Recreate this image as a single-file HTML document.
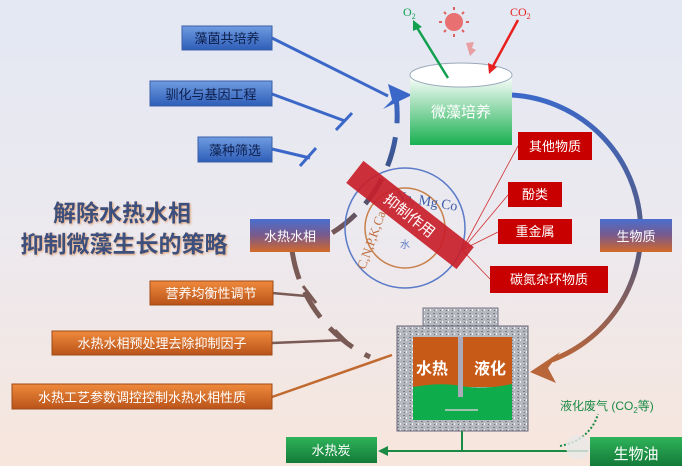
<!DOCTYPE html>
<html><head><meta charset="utf-8"><style>
html,body{margin:0;padding:0;}
body{width:682px;height:466px;overflow:hidden;font-family:"Liberation Sans","Noto Sans CJK SC",sans-serif;}
</style></head><body>
<svg width="682" height="466" viewBox="0 0 682 466" xmlns="http://www.w3.org/2000/svg" font-family="Liberation Sans, Noto Sans CJK SC, sans-serif">
<defs>
<linearGradient id="bg" x1="0" y1="0" x2="0" y2="1"><stop offset="0" stop-color="#e3e8f3"/><stop offset="0.5" stop-color="#ece9ef"/><stop offset="1" stop-color="#f7e6dc"/></linearGradient>
<linearGradient id="blueb" x1="0" y1="0" x2="0" y2="1"><stop offset="0" stop-color="#6f9ce0"/><stop offset="1" stop-color="#2e5db8"/></linearGradient>
<linearGradient id="orb" x1="0" y1="0" x2="0" y2="1"><stop offset="0" stop-color="#ef8a3c"/><stop offset="1" stop-color="#b9531a"/></linearGradient>
<linearGradient id="mix" x1="0" y1="0" x2="0" y2="1"><stop offset="0" stop-color="#4a6fd0"/><stop offset="0.5" stop-color="#7a5a8a"/><stop offset="1" stop-color="#d4692a"/></linearGradient>
<linearGradient id="grb" x1="0" y1="0" x2="0" y2="1"><stop offset="0" stop-color="#2fb35a"/><stop offset="1" stop-color="#137a38"/></linearGradient>
<linearGradient id="cyl" x1="0" y1="0" x2="0" y2="1"><stop offset="0" stop-color="#ffffff"/><stop offset="1" stop-color="#19b050"/></linearGradient>
<linearGradient id="larc" x1="0" y1="0" x2="0" y2="1"><stop offset="0" stop-color="#3b68c8"/><stop offset="0.55" stop-color="#3d4f7c"/><stop offset="1" stop-color="#8a5a4a"/></linearGradient>
<linearGradient id="rarc" x1="0" y1="0" x2="0" y2="1"><stop offset="0" stop-color="#3b68c8"/><stop offset="0.6" stop-color="#5a5a7a"/><stop offset="1" stop-color="#b8653a"/></linearGradient>
<pattern id="gran" width="6" height="6" patternUnits="userSpaceOnUse"><rect width="6" height="6" fill="#b5b8bf"/><rect x="1" y="1" width="2" height="1" fill="#7a7d85"/><rect x="4" y="3" width="1" height="2" fill="#eef0f3"/><rect x="2" y="4" width="1" height="1" fill="#6b6e75"/></pattern>
</defs>
<rect width="682" height="466" fill="url(#bg)"/>

<path d="M292,250 A139,139 0 0 0 396,97" fill="none" stroke="url(#larc)" stroke-width="5" stroke-dasharray="30,14"/>
<path d="M292,250 A139,139 0 0 0 370,357" fill="none" stroke="#7a5a55" stroke-width="5" stroke-dasharray="30,14"/>
<polygon points="412,95 388,84 392,100 383,109" fill="#3b68c8"/>
<path d="M512,95 A137,137 0 0 1 552,360" fill="none" stroke="url(#rarc)" stroke-width="5"/>
<polygon points="530,372 560,352 548,368 556,383" fill="#b8653a"/>

<g stroke="#3b68c8" stroke-width="3"><line x1="272" y1="38" x2="388" y2="96"/><line x1="272" y1="94" x2="345" y2="121"/><line x1="272" y1="149" x2="310" y2="158"/></g>
<g stroke="#3b68c8" stroke-width="3"><line x1="336" y1="130" x2="352" y2="113"/><line x1="300" y1="166" x2="316" y2="148"/></g>
<g font-size="13" fill="#0d1f4d">
<rect x="182" y="26" width="90" height="24" fill="url(#blueb)" stroke="#3a5fa8"/><text x="227" y="43" text-anchor="middle">藻菌共培养</text>
<rect x="150" y="81" width="122" height="25" fill="url(#blueb)" stroke="#3a5fa8"/><text x="211" y="99" text-anchor="middle">驯化与基因工程</text>
<rect x="198" y="137" width="74" height="25" fill="url(#blueb)" stroke="#3a5fa8"/><text x="235" y="155" text-anchor="middle">藻种筛选</text>
</g>

<g font-size="23" font-weight="bold" fill="#3d4f7c">
<text x="122" y="221" text-anchor="middle" style="filter:drop-shadow(1px 1px 1px #e0a070)">解除水热水相</text>
<text x="124" y="252" text-anchor="middle" style="filter:drop-shadow(1px 1px 1px #e0a070)">抑制微藻生长的策略</text>
</g>

<g stroke="#7a5a55" stroke-width="2.5"><line x1="272" y1="293" x2="306" y2="296"/><line x1="272" y1="343" x2="346" y2="340"/></g>
<line x1="272" y1="397" x2="392" y2="355" stroke="#c06a30" stroke-width="2.5"/>
<g stroke="#7a5a55" stroke-width="3"><line x1="303" y1="286" x2="316" y2="303"/><line x1="335" y1="330" x2="352" y2="347"/></g>
<g font-size="13" fill="#fff">
<rect x="150" y="281" width="123" height="24" fill="url(#orb)" stroke="#a04a15"/><text x="211" y="298" text-anchor="middle">营养均衡性调节</text>
<rect x="52" y="331" width="220" height="24" fill="url(#orb)" stroke="#a04a15"/><text x="162" y="348" text-anchor="middle">水热水相预处理去除抑制因子</text>
<rect x="12" y="384" width="260" height="25" fill="url(#orb)" stroke="#a04a15"/><text x="142" y="402" text-anchor="middle">水热工艺参数调控控制水热水相性质</text>
</g>

<rect x="250" y="219" width="80" height="33" fill="url(#mix)"/><text x="290" y="241" font-size="13" fill="#fff" text-anchor="middle">水热水相</text>
<rect x="600" y="219" width="72" height="33" fill="url(#mix)"/><text x="636" y="241" font-size="13" fill="#fff" text-anchor="middle">生物质</text>

<rect x="410" y="75" width="102" height="70" fill="url(#cyl)"/>
<ellipse cx="461" cy="75" rx="51" ry="12" fill="#fff" stroke="#9ab" stroke-width="1"/>
<text x="461" y="117" font-size="15" fill="#fff" text-anchor="middle">微藻培养</text>
<line x1="448" y1="78" x2="416" y2="26" stroke="#12a050" stroke-width="2.5"/><polygon points="413,20 413,31 422,27" fill="#12a050"/>
<text x="403" y="16" font-size="12" fill="#12a050" font-family="Liberation Serif, serif">O<tspan font-size="8" dy="3">2</tspan></text>
<line x1="518" y1="20" x2="492" y2="68" stroke="#e82020" stroke-width="2.5"/><polygon points="489,74 488,63 497,67" fill="#e82020"/>
<text x="510" y="16" font-size="12" fill="#e82020" font-family="Liberation Serif, serif">CO<tspan font-size="8" dy="3">2</tspan></text>
<circle cx="454" cy="22" r="9" fill="#e87070"/>
<g stroke="#e06060" stroke-width="2"><line x1="454" y1="7" x2="454" y2="10"/><line x1="454" y1="34" x2="454" y2="37"/><line x1="439" y1="22" x2="442" y2="22"/><line x1="466" y1="22" x2="469" y2="22"/><line x1="444" y1="12" x2="446" y2="14"/><line x1="462" y1="30" x2="464" y2="32"/><line x1="464" y1="12" x2="462" y2="14"/><line x1="444" y1="32" x2="446" y2="30"/></g>
<path d="M466,43 L474,42 L472,48 L476,50 L470,56 Z" fill="#e88080" opacity="0.7"/>

<circle cx="405" cy="228" r="60" fill="none" stroke="#5a7ac8" stroke-width="1.5"/>
<circle cx="405" cy="228" r="40" fill="none" stroke="#c8804a" stroke-width="1.5"/>
<text x="395" y="200" font-size="14" fill="#3a5aa8" font-family="Liberation Serif, serif" transform="rotate(10 395 200)">Na, Mg Co</text>
<text x="365" y="270" font-size="13" fill="#c07040" font-family="Liberation Serif, serif" transform="rotate(-70 365 270)">C,N,P,K,Ca</text>
<text x="400" y="248" font-size="10" fill="#5a7ac8">水</text>
<g stroke="#d03030" stroke-width="0.8"><line x1="462" y1="250" x2="518" y2="146"/><line x1="462" y1="250" x2="508" y2="195"/><line x1="462" y1="250" x2="498" y2="232"/><line x1="462" y1="250" x2="490" y2="279"/></g>
<g transform="translate(410,215) rotate(38)">
<rect x="-70" y="-14" width="140" height="28" fill="#c8202a" opacity="0.92"/>
<text x="0" y="6" font-size="15" fill="#fff" text-anchor="middle">抑制作用</text>
</g>
<g font-size="13" fill="#fff">
<rect x="518" y="132" width="74" height="28" fill="#c80000"/><text x="555" y="151" text-anchor="middle">其他物质</text>
<rect x="508" y="182" width="54" height="25" fill="#c80000"/><text x="535" y="199" text-anchor="middle">酚类</text>
<rect x="498" y="219" width="74" height="25" fill="#c80000"/><text x="535" y="236" text-anchor="middle">重金属</text>
<rect x="490" y="266" width="118" height="27" fill="#c80000"/><text x="549" y="284" text-anchor="middle">碳氮杂环物质</text>
</g>

<rect x="423" y="308" width="75" height="20" fill="url(#gran)" stroke="#778"/>
<rect x="397" y="326" width="131" height="105" fill="url(#gran)" stroke="#667"/>
<rect x="413" y="337" width="99" height="50" fill="#c85a18"/>
<path d="M413,387 Q440,382 462,386 T512,384 L512,420 L413,420 Z" fill="#0fac4c"/>
<rect x="458" y="337" width="5" height="60" fill="#aab"/>
<line x1="445" y1="410" x2="478" y2="410" stroke="#ccc" stroke-width="1.5"/>
<text x="432" y="374" font-size="16" fill="#fff" text-anchor="middle" font-weight="bold">水热</text>
<text x="490" y="374" font-size="16" fill="#fff" text-anchor="middle" font-weight="bold">液化</text>

<g stroke="#1a8a45" stroke-width="2" fill="none"><line x1="462" y1="431" x2="462" y2="451"/><line x1="588" y1="451" x2="384" y2="451"/>
<path d="M560,446 Q590,440 598,414" stroke-dasharray="2,2"/></g>
<polygon points="378,451 388,446 388,456" fill="#1a8a45"/>
<text x="560" y="410" font-size="12" fill="#1a8a45">液化废气 (CO<tspan font-size="8" dy="3">2</tspan><tspan dy="-3">等)</tspan></text>
<rect x="286" y="437" width="91" height="26" fill="url(#grb)"/><text x="331" y="455" font-size="13" fill="#fff" text-anchor="middle">水热炭</text>
<rect x="590" y="437" width="92" height="29" fill="url(#grb)"/><text x="636" y="459" font-size="15" fill="#fff" text-anchor="middle">生物油</text>
<circle cx="578" cy="447" r="12" fill="#e8e8e8" opacity="0.8"/>
</svg>
</body></html>
